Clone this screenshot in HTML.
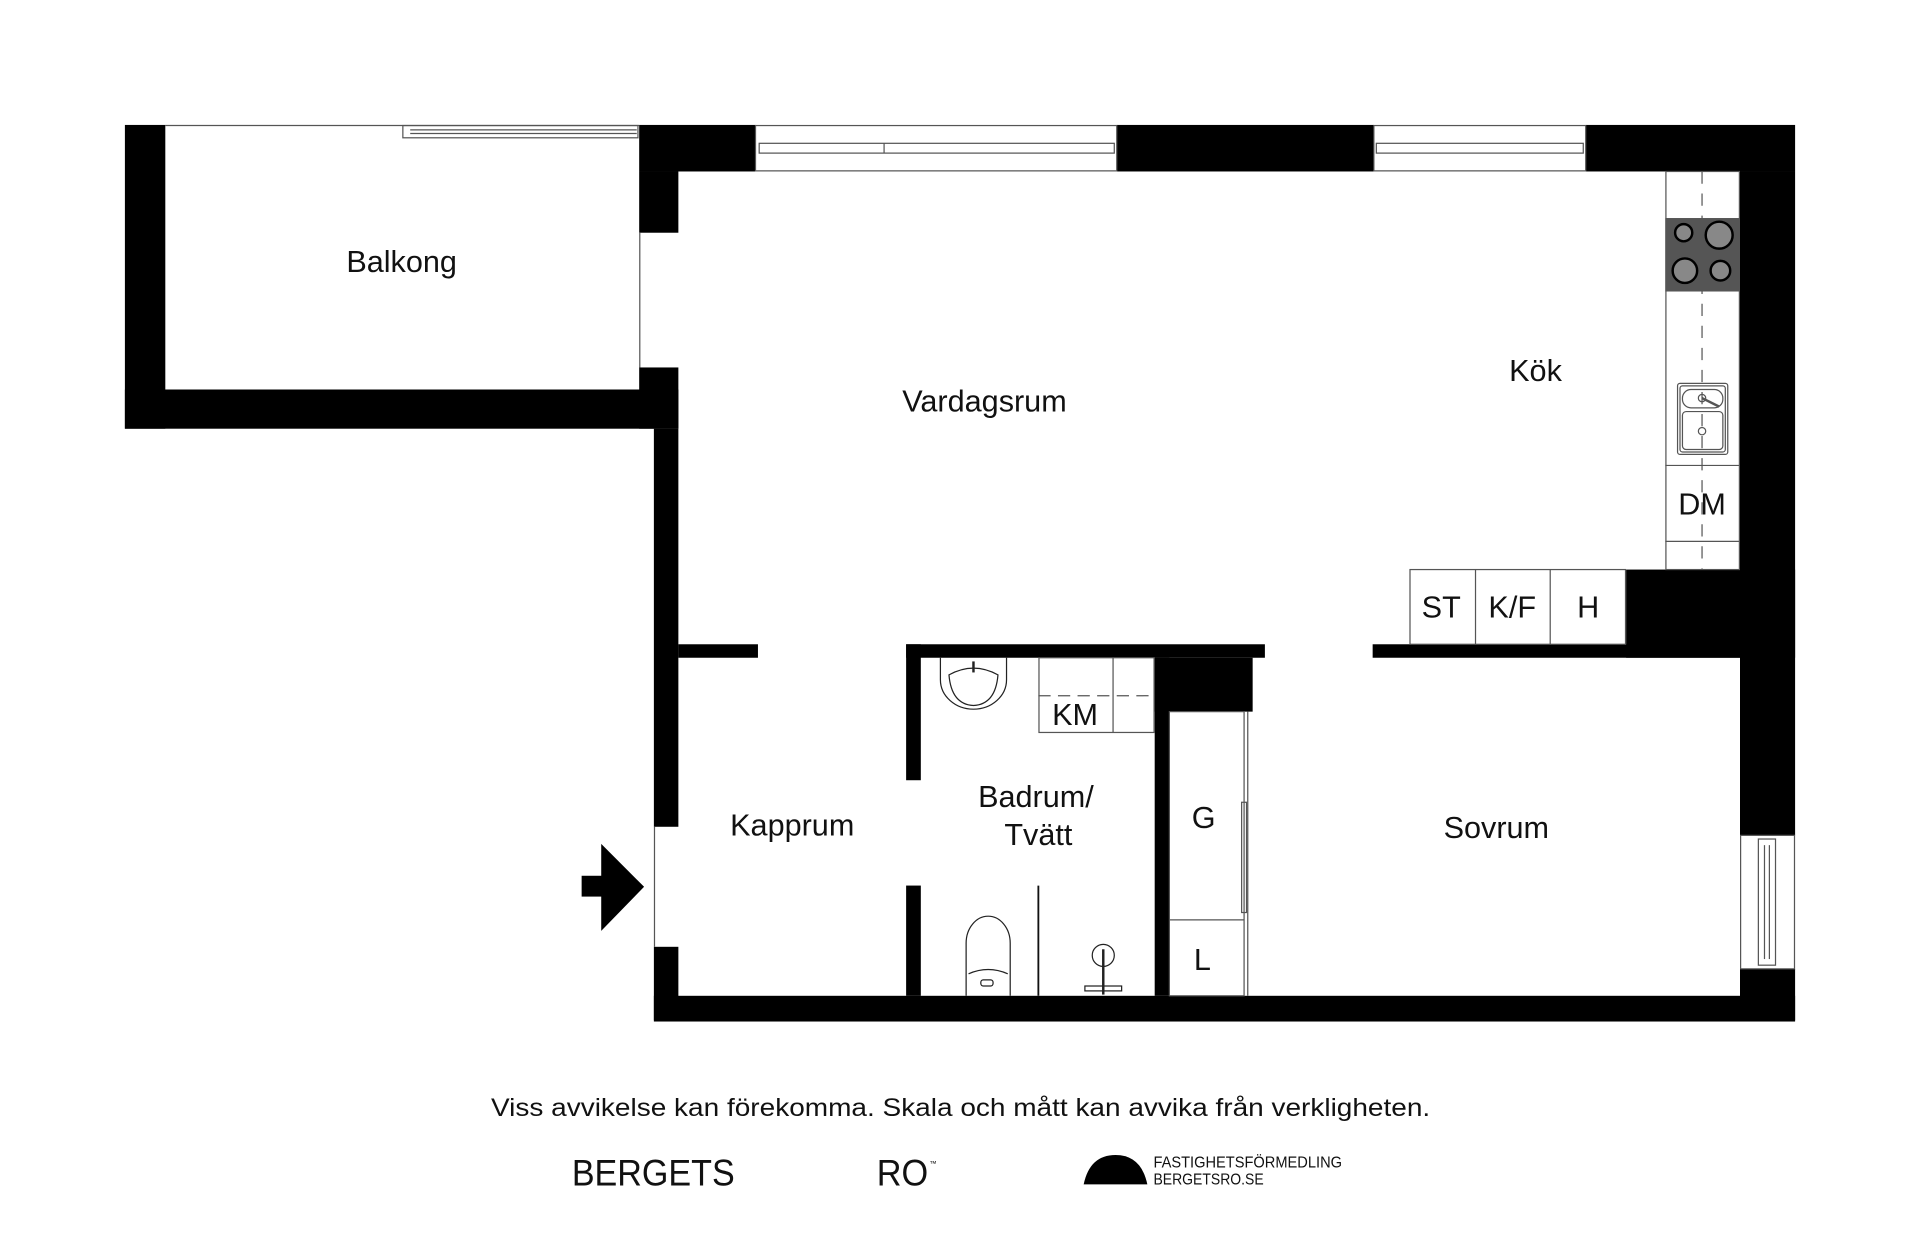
<!DOCTYPE html>
<html><head><meta charset="utf-8"><style>
html,body{margin:0;padding:0;background:#fff;width:1920px;height:1242px;overflow:hidden}
svg{display:block}
text{font-family:"Liberation Sans",sans-serif;fill:#111}
</style></head><body>
<svg width="1920" height="1242" viewBox="0 0 1568 1014" preserveAspectRatio="none">
<rect width="1568" height="1014" fill="#fff"/>
<g fill="#000">
<rect x="102" y="102" width="33" height="248"/>
<rect x="102" y="318" width="452" height="32"/>
<rect x="522" y="102" width="95" height="38"/>
<rect x="912" y="102" width="210" height="38"/>
<rect x="1295" y="102" width="171" height="38"/>
<rect x="522" y="140" width="32" height="50"/>
<rect x="522" y="300" width="32" height="50"/>
<rect x="534" y="350" width="20" height="325"/>
<rect x="534" y="773" width="20" height="60"/>
<rect x="554" y="526" width="65" height="11"/>
<rect x="534" y="813" width="932" height="21"/>
<rect x="1421" y="140" width="45" height="542"/>
<rect x="1421" y="791" width="45" height="42"/>
<rect x="1328" y="465" width="138" height="72"/>
<rect x="1121" y="526" width="300" height="11"/>
<rect x="740" y="526" width="293" height="11"/>
<rect x="740" y="526" width="12" height="111"/>
<rect x="740" y="723" width="12" height="90"/>
<rect x="943" y="537" width="12" height="276"/>
<rect x="943" y="537" width="80" height="44"/>
<rect x="475" y="715" width="18" height="17"/>
<polygon points="491,689 526,724 491,760"/>
</g>
<g fill="none" stroke="#555" stroke-width="1">
<line x1="135" y1="102.5" x2="522" y2="102.5"/>
<line x1="522.5" y1="190" x2="522.5" y2="300"/>
<rect x="329" y="102.5" width="192" height="10"/>
<line x1="335" y1="106" x2="520" y2="106"/><line x1="335" y1="109" x2="520" y2="109"/>
<rect x="617" y="102.5" width="295" height="37"/>
<rect x="620" y="117" width="290" height="8"/><line x1="722" y1="117" x2="722" y2="125"/>
<rect x="1122" y="102.5" width="173" height="37"/>
<rect x="1124" y="117" width="169" height="8"/>
<rect x="1421.5" y="682" width="44" height="109"/>
<rect x="1436" y="685" width="14" height="103"/>
<line x1="1441" y1="690" x2="1441" y2="783"/><line x1="1445" y1="690" x2="1445" y2="783"/>
<line x1="534.5" y1="675" x2="534.5" y2="773"/>
<rect x="1360.5" y="140" width="60" height="325"/>
<line x1="1360" y1="380" x2="1421" y2="380"/><line x1="1360" y1="442" x2="1421" y2="442"/>
<line x1="1390" y1="140" x2="1390" y2="465" stroke-dasharray="10,8"/>
<rect x="1151.5" y="465" width="176" height="61"/>
<line x1="1205" y1="465" x2="1205" y2="526"/><line x1="1266" y1="465" x2="1266" y2="526"/>
<rect x="1370" y="313" width="41" height="58" rx="2"/>
<rect x="1372" y="315" width="37" height="54" rx="2"/>
<rect x="1374" y="318" width="33" height="15" rx="7"/>
<rect x="1374" y="336" width="33" height="31" rx="3"/>
<line x1="1390" y1="325" x2="1404" y2="332" stroke-width="2"/>
<circle cx="1390" cy="325" r="3"/><circle cx="1390" cy="352" r="3"/>
<rect x="848.5" y="537" width="94" height="61"/>
<line x1="909" y1="537" x2="909" y2="598"/>
<line x1="848" y1="568" x2="943" y2="568" stroke-dasharray="10,6"/>
<path d="M768,537 L768,555 A27,24 0 0 0 822,555 L822,537" stroke="#222"/>
<path d="M775,551 Q795,540 815,551 Q813,575 795,576 Q777,575 775,551Z" stroke="#222"/>
<line x1="795" y1="540" x2="795" y2="549" stroke="#222" stroke-width="2"/>
<path d="M789,813 L789,770 A18,22 0 0 1 825,770 L825,813" stroke="#222"/>
<path d="M791,795 Q807,788 823,795" stroke="#222"/>
<rect x="801" y="800" width="10" height="5" rx="2" stroke="#222"/>
<line x1="848" y1="723" x2="848" y2="813" stroke="#111" stroke-width="1.5"/>
<circle cx="901" cy="780" r="9" stroke="#222"/>
<line x1="901" y1="775" x2="901" y2="812" stroke="#222" stroke-width="2"/>
<rect x="886" y="805" width="30" height="4" stroke="#222"/>
<rect x="955" y="581" width="61" height="232"/>
<line x1="955" y1="751" x2="1016" y2="751"/>
<line x1="1019" y1="581" x2="1019" y2="813"/>
<rect x="1014" y="655" width="4" height="90"/>
</g>
<rect x="1360" y="178" width="61" height="60" fill="#555"/>
<g stroke="#000" stroke-width="2" fill="#888">
<circle cx="1375" cy="190" r="7"/><circle cx="1404" cy="192" r="11"/>
<circle cx="1376" cy="221" r="10"/><circle cx="1405" cy="221" r="8"/>
</g>
<g font-size="25" text-anchor="middle">
<text x="328" y="222">Balkong</text>
<text x="804" y="336">Vardagsrum</text>
<text x="1254" y="311">Kök</text>
<text x="1390" y="420">DM</text>
<text x="1177" y="504">ST</text>
<text x="1235" y="504">K/F</text>
<text x="1297" y="504">H</text>
<text x="878" y="592">KM</text>
<text x="647" y="682">Kapprum</text>
<text x="846" y="659">Badrum/</text>
<text x="848" y="690">Tvätt</text>
<text x="983" y="676">G</text>
<text x="982" y="792">L</text>
<text x="1222" y="684">Sovrum</text>
</g>
<text x="401" y="911" font-size="20.5" textLength="767" lengthAdjust="spacingAndGlyphs">Viss avvikelse kan förekomma. Skala och mått kan avvika från verkligheten.</text>
<text x="467" y="968" font-size="30" textLength="133" lengthAdjust="spacingAndGlyphs">BERGETS</text>
<text x="716" y="968" font-size="30" textLength="42" lengthAdjust="spacingAndGlyphs">RO</text>
<text x="759" y="952" font-size="6">™</text>
<path d="M885,967 Q890,943 911,943 Q932,943 937,967Z" fill="#000"/>
<text x="942" y="953" font-size="12.5" textLength="154" lengthAdjust="spacingAndGlyphs">FASTIGHETSFÖRMEDLING</text>
<text x="942" y="967" font-size="12.5" textLength="90" lengthAdjust="spacingAndGlyphs">BERGETSRO.SE</text>
</svg>
</body></html>
